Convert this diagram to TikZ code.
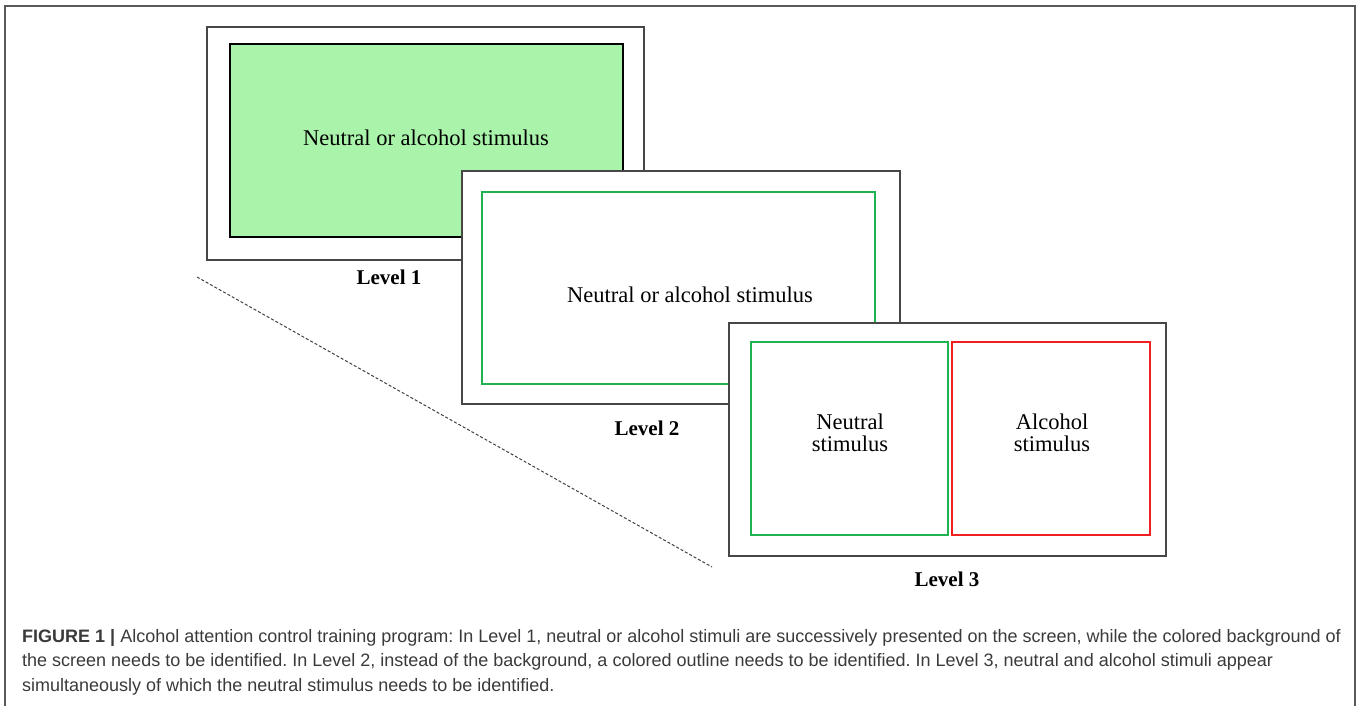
\documentclass[tikz,border=0pt]{standalone}
\usepackage{fontspec}
\setmainfont{Liberation Serif}
\newfontfamily\capfont{Liberation Sans}
\usepackage{tikz}

\definecolor{bggreen}{RGB}{170,243,170}
\definecolor{lngreen}{RGB}{30,178,80}
\definecolor{lnred}{RGB}{240,32,32}
\definecolor{captext}{RGB}{58,58,58}

\begin{document}
\frenchspacing
\begin{tikzpicture}[x=1pt,y=-1pt,
		screen/.style={draw=black!72, line width=1.6pt, fill=white},
		stim/.style={font=\fontsize{22.5}{22}\selectfont, align=center},
		lvl/.style={font=\bfseries\fontsize{21}{24}\selectfont}]
				\useasboundingbox (0,0) rectangle (1357,706);
				\draw[black!65, line width=1.5pt] (5,706)--(5,6)--(1355,6)--(1355,706);
				
				\coordinate (dashstart) at (197,277);
				\coordinate (dashend) at (712,567);
				\draw[black!75, line width=1pt, dash pattern=on 3pt off 2pt] (dashstart)--(dashend);
				
				\draw[screen] (207,27) rectangle (644,260);
				\draw[fill=bggreen, line width=2.6pt] (230,44) rectangle (623,237);
				\node[stim] (stimone) at (426,138) {Neutral or alcohol stimulus};
				\node[lvl] (levelone) at (389,277) {Level 1};
				
				\draw[screen] (462,171) rectangle (900,404);
				\draw[lngreen, line width=2.6pt] (482,192) rectangle (875,384);
				\node[stim] (stimtwo) at (690,295) {Neutral or alcohol stimulus};
				\node[lvl] (leveltwo) at (647,428) {Level 2};
				
				\draw[screen] (729,323) rectangle (1166,556);
				\draw[lngreen, line width=2.6pt] (751,342) rectangle (948,535);
				\draw[lnred, line width=2.6pt] (952,342) rectangle (1150,535);
				\node[stim] (neutral) at (850,433) {Neutral\\stimulus};
				\node[stim] (alcohol) at (1052,433) {Alcohol\\stimulus};
				\node[lvl] (levelthree) at (947,579) {Level 3};
				
				\node[anchor=north west, inner sep=0pt, align=left, text=captext,
					font=\capfont\fontsize{18}{24.5}\selectfont] (caption) at (22,629)
					{\textbf{FIGURE 1 |} Alcohol attention control training program: In Level 1, neutral or alcohol stimuli are successively presented on the screen, while the colored background of\\
					the screen needs to be identified. In Level 2, instead of the background, a colored outline needs to be identified. In Level 3, neutral and alcohol stimuli appear\\
					simultaneously of which the neutral stimulus needs to be identified.};
			\end{tikzpicture}
\end{document}
